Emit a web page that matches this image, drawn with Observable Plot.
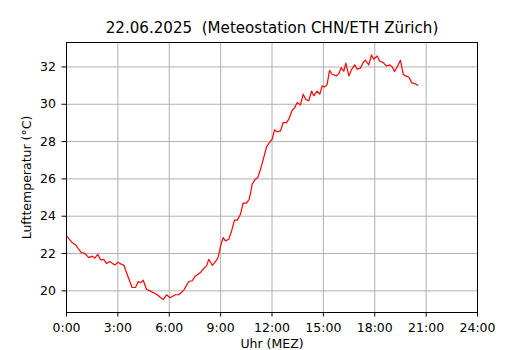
<!DOCTYPE html>
<html>
<head>
<meta charset="utf-8">
<script src="https://cdn.jsdelivr.net/npm/d3@7"></script>
<script src="https://cdn.jsdelivr.net/npm/@observablehq/plot@0.6"></script>
<style>
  html, body { margin: 0; padding: 0; background: #fff; }
  body { width: 530px; height: 350px; overflow: hidden; font-family: "DejaVu Sans", sans-serif; }
  #title { position: relative; height: 36px; width: 530px; }
  #title span { position: absolute; left: 272px; top: 28px; transform: translate(-50%, -50%); font-size: 15.1px; white-space: pre; color: #000; }
</style>
</head>
<body>
<div id="title"><span>22.06.2025  (Meteostation CHN/ETH Zürich)</span></div>
<div id="chart"></div>
<script>
const titleText = "22.06.2025  (Meteostation CHN/ETH Zürich)";
const xLabel = "Uhr (MEZ)";
const yLabel = "Lufttemperatur (°C)";
const xTicks = [0, 3, 6, 9, 12, 15, 18, 21, 24];
const yTicks = [20, 22, 24, 26, 28, 30, 32];

// time of day in hours (MEZ)
const hours = [
  0.04, 0.33, 0.53, 0.72, 0.86, 1.05, 1.30, 1.50, 1.65, 1.83, 1.99, 2.18, 2.34, 2.53, 2.67, 2.82,
  3.02, 3.19, 3.35, 3.54, 3.83, 4.03, 4.19, 4.32, 4.48, 4.67, 4.87, 5.06, 5.30, 5.49, 5.65, 5.84,
  6.05, 6.36, 6.56, 6.85, 7.14, 7.34, 7.53, 7.82, 8.02, 8.18, 8.31, 8.51, 8.70, 8.84,
  9.00, 9.15, 9.28, 9.48, 9.64, 9.81, 9.97, 10.16, 10.31, 10.51, 10.67, 10.76, 10.84, 11.00, 11.17,
  11.33, 11.49, 11.68, 11.81, 12.01, 12.15, 12.30, 12.50, 12.65, 12.85, 12.98, 13.18, 13.33, 13.47,
  13.66, 13.82, 13.96, 14.15, 14.31, 14.44, 14.64, 14.79, 14.93, 15.08, 15.22, 15.36, 15.51, 15.77,
  15.90, 16.04, 16.19, 16.31, 16.49, 16.64, 16.83, 16.97, 17.17, 17.33, 17.46, 17.65, 17.81, 17.94,
  18.14, 18.29, 18.49, 18.69, 18.88, 19.02, 19.15, 19.31, 19.50, 19.66, 19.80, 19.99, 20.15, 20.32, 20.51
];
// air temperature in °C
const temps = [
  22.91, 22.59, 22.46, 22.23, 22.05, 22.02, 21.78, 21.86, 21.75, 21.95, 21.66, 21.69, 21.46, 21.57, 21.48, 21.39,
  21.54, 21.43, 21.37, 20.89, 20.18, 20.18, 20.50, 20.43, 20.57, 20.09, 20.00, 19.91, 19.79, 19.64, 19.53, 19.79,
  19.63, 19.79, 19.79, 20.04, 20.50, 20.54, 20.80, 20.98, 21.21, 21.34, 21.69, 21.37, 21.57, 21.75,
  22.41, 22.86, 22.68, 22.77, 23.21, 23.79, 23.79, 24.11, 24.70, 24.70, 24.91, 25.30, 25.71, 25.95, 26.07,
  26.52, 27.05, 27.71, 27.89, 28.13, 28.63, 28.52, 28.57, 29.02, 29.02, 29.20, 29.68, 29.82, 30.09,
  29.96, 30.54, 30.27, 30.18, 30.71, 30.45, 30.71, 30.54, 30.98, 30.93, 31.07, 31.82, 31.61, 31.52,
  31.64, 31.96, 31.77, 32.20, 31.52, 31.85, 32.11, 31.88, 31.94, 32.25, 32.36, 32.11, 32.64, 32.41,
  32.59, 32.32, 32.23, 32.05, 32.11, 32.00, 31.75, 32.00, 32.36, 31.61, 31.52, 31.46, 31.16, 31.11, 31.02
];

const data = hours.map((h, i) => ({h, t: temps[i]}));
const fmt = h => `${h}:00`;

const chart = Plot.plot({
  width: 530,
  height: 314,
  marginTop: 6,
  marginBottom: 38,
  marginLeft: 66,
  marginRight: 53,
  style: {fontFamily: "DejaVu Sans, sans-serif", fontSize: "12.5px", color: "#000", background: "#fff", overflow: "visible"},
  x: {domain: [0, 24]},
  y: {domain: [18.84, 33.31]},
  marks: [
    Plot.gridX(xTicks, {stroke: "#b0b0b0", strokeOpacity: 1, strokeWidth: 1}),
    Plot.gridY(yTicks, {stroke: "#b0b0b0", strokeOpacity: 1, strokeWidth: 1}),
    Plot.line(data, {x: "h", y: "t", stroke: "red", strokeWidth: 1.2, curve: "linear"}),
    Plot.frame({stroke: "#000", strokeWidth: 1}),
    Plot.axisX(xTicks, {tickFormat: fmt, tickSize: 4.5, tickPadding: 6.5, fontSize: 12.5, label: xLabel, labelAnchor: "center", labelArrow: "none", labelOffset: 35, stroke: "#000"}),
    Plot.axisY(yTicks, {tickSize: 4.5, tickPadding: 6, fontSize: 12.5, label: yLabel, labelAnchor: "center", labelArrow: "none", labelOffset: 44, stroke: "#000"})
  ]
});
document.getElementById("chart").appendChild(chart);
</script>
</body>
</html>
